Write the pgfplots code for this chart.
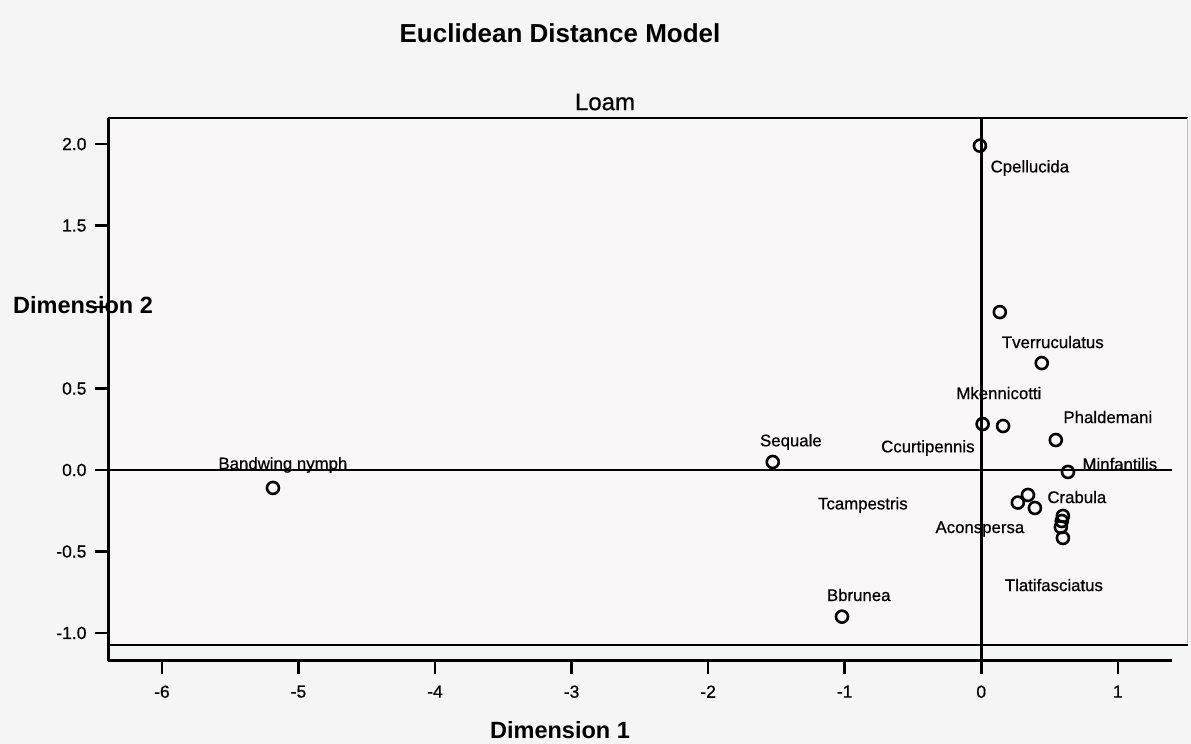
\documentclass[border=0pt]{standalone}
\usepackage{pgfplots}
\pgfplotsset{compat=1.18}
\usepackage{fontspec}
\setmainfont{Liberation Sans}
\newfontfamily\semibold[FakeBold=0.6]{Liberation Sans}
\definecolor{bg}{RGB}{246,245,245}
\definecolor{plotbg}{RGB}{250,247,248}
\newcommand{\lbl}{\semibold\fontsize{16.8}{16.8}\selectfont}
\begin{document}
\begin{tikzpicture}
\useasboundingbox (0,0) rectangle (1191pt,744pt);
\fill[bg] (0,0) rectangle (1191pt,744pt);
\fill[plotbg] (108pt,99pt) rectangle (1188pt,626pt);
\node[font=\bfseries\fontsize{23.5}{23.5}\selectfont] at (83pt,439pt) {Dimension 2};
\begin{axis}[
  at={(108pt,83pt)}, anchor=south west,
  width=1064pt, height=543pt, scale only axis,
  xmin=-6.395, xmax=1.397, ymin=-1.172, ymax=2.16,
  axis x line*=bottom, axis y line*=left,
  axis line style={line width=3pt,-},
  xtick={-6,-5,-4,-3,-2,-1,0,1},
  xticklabels={-6,-5,-4,-3,-2,-1,0,1},
  ytick={-1,-0.5,0,0.5,1,1.5,2},
  yticklabels={-1.0,-0.5,0.0,0.5,,1.5,2.0},
  tick align=outside, major tick length=13pt,
  tick style={line width=2.6pt, black},
  ticklabel style={font=\semibold\fontsize{17.5}{17.5}\selectfont},
  xticklabel style={yshift=-8pt},
  yticklabel style={xshift=-5pt},
  clip=false,
]
\draw[line width=2.4pt] (axis cs:-6.395,2.16) -- (axis cs:1.513,2.16);
\draw[line width=0.8pt, black!25] (axis cs:1.513,2.16) -- (axis cs:1.513,-1.075);
\draw[line width=1.8pt] (axis cs:-6.395,-1.075) -- (axis cs:1.513,-1.075);
\draw[line width=2.6pt] (axis cs:-6.395,0) -- (axis cs:1.397,0);
\draw[line width=2.8pt] (axis cs:0,2.16) -- (axis cs:0,-1.172);
\addplot[only marks, mark=o, mark size=6pt, mark options={line width=2.6pt, black}] table {
x y
-0.01 1.99
0.136 0.969
0.443 0.656
0.01 0.282
0.16 0.27
0.546 0.184
0.635 -0.012
0.268 -0.20
0.342 -0.153
0.393 -0.233
0.598 -0.282
0.59 -0.313
0.583 -0.35
0.598 -0.417
-1.527 0.049
-5.187 -0.11
-1.02 -0.90
};
\node[font=\lbl] at (axis cs:0.356,1.853) {Cpellucida};
\node[font=\lbl] at (axis cs:0.524,0.785) {Tverruculatus};
\node[font=\lbl] at (axis cs:0.129,0.472) {Mkennicotti};
\node[font=\lbl] at (axis cs:0.927,0.325) {Phaldemani};
\node[font=\lbl] at (axis cs:-0.391,0.135) {Ccurtipennis};
\node[font=\lbl] at (axis cs:1.015,0.037) {Minfantilis};
\node[font=\lbl] at (axis cs:0.70,-0.166) {Crabula};
\node[font=\lbl] at (axis cs:-0.867,-0.215) {Tcampestris};
\node[font=\lbl] at (axis cs:-0.01,-0.362) {Aconspersa};
\node[font=\lbl] at (axis cs:0.532,-0.706) {Tlatifasciatus};
\node[font=\lbl] at (axis cs:-0.897,-0.767) {Bbrunea};
\node[font=\lbl] at (axis cs:-1.394,0.172) {Sequale};
\node[font=\lbl] at (axis cs:-5.114,0.031) {Bandwing nymph};
\end{axis}
\node[font=\bfseries\fontsize{26}{26}\selectfont] at (560pt,711pt) {Euclidean Distance Model};
\node[font=\semibold\fontsize{24}{24}\selectfont] at (605pt,642pt) {Loam};
\node[font=\bfseries\fontsize{23.5}{23.5}\selectfont] at (560pt,14pt) {Dimension 1};
\end{tikzpicture}
\end{document}
